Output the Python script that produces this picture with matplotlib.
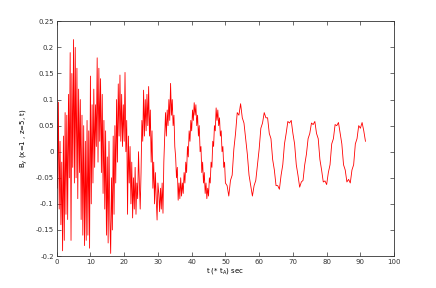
import numpy as np
import matplotlib
matplotlib.use('Agg')
import matplotlib.pyplot as plt

# early, noisy part: t = 0 .. 30, step 0.25
t_early = np.arange(0, 30.01, 0.25)
b_early = [0.14, -0.07, 0.095, -0.11, 0.02, -0.14, -0.02, -0.19,
           0.03, -0.17, 0.075, -0.12, 0.07, -0.13, 0.11, -0.05,
           0.19, -0.17, 0.15, -0.03, 0.215, -0.06, 0.20, -0.05,
           0.16, -0.09, 0.12, -0.04, 0.10, -0.13, 0.07, -0.16,
           0.05, -0.18, 0.02, -0.17, 0.06, -0.16, 0.04, -0.185,
           0.145, -0.10, 0.09, -0.06, 0.12, -0.03, 0.09, 0.01,
           0.18, -0.02, 0.16, 0.02, 0.14, -0.04, 0.11, -0.08,
           0.06, -0.11, 0.04, -0.16, -0.01, -0.175, 0.02, -0.13,
           -0.195, -0.05, -0.15, 0.03, -0.12, 0.05, -0.06, 0.10,
           -0.02, 0.13, 0.03, 0.147, 0.02, 0.11, 0.01, 0.09,
           0.02, 0.152, 0.00, 0.06, -0.12, 0.03, -0.06, 0.01,
           -0.10, -0.02, -0.127, -0.05, -0.11, -0.03, -0.12, -0.06,
           -0.09, 0.00, -0.06, -0.11, -0.04, 0.06, 0.02, 0.118,
           0.03, 0.10, 0.04, 0.11, 0.05, 0.125, 0.03, 0.08,
           -0.02, 0.04, -0.07, -0.02, -0.10, -0.04, -0.09, -0.131,
           -0.06]

# middle part: t = 30.25 .. 50, step 0.25
t_mid = np.arange(30.25, 50.01, 0.25)
b_mid = [-0.08, -0.115, -0.07, -0.11, -0.06, -0.118, -0.02, 0.03,
         0.075, 0.03, 0.08, 0.05, 0.10, 0.06, 0.131, 0.07,
         0.10, 0.05, 0.07, 0.01, -0.01, -0.05, -0.03, -0.093,
         -0.06, -0.09, -0.05, -0.085, -0.06, -0.08, -0.04, -0.06,
         -0.02, -0.04, 0.01, -0.01, 0.04, 0.02, 0.06, 0.04,
         0.08, 0.06, 0.094, 0.07, 0.09, 0.05, 0.07, 0.03,
         0.05, 0.00, 0.01, -0.04, -0.02, -0.06, -0.04, -0.08,
         -0.06, -0.09, -0.07, -0.085, -0.05, -0.06, -0.02, -0.03,
         0.02, 0.01, 0.05, 0.04, 0.084, 0.06, 0.08, 0.05,
         0.065, 0.03, 0.04, 0.00, 0.01, -0.03, -0.02, -0.06]

# late part: t = 50.5 .. 91.5, step 0.5
t_late = np.arange(50.5, 91.51, 0.5)
b_late = [-0.065, -0.085, -0.055, -0.045, 0.005, 0.035, 0.075, 0.07,
          0.092, 0.065, 0.055, 0.025, -0.005, -0.045, -0.065, -0.085,
          -0.065, -0.055, -0.025, 0.005, 0.045, 0.055, 0.075, 0.065,
          0.065, 0.035, 0.025, -0.015, -0.035, -0.065, -0.065, -0.072,
          -0.045, -0.025, 0.015, 0.035, 0.058, 0.055, 0.06, 0.035,
          0.015, -0.025, -0.045, -0.068, -0.058, -0.055, -0.025, -0.005,
          0.025, 0.035, 0.055, 0.052, 0.058, 0.035, 0.025, -0.015,
          -0.035, -0.058, -0.056, -0.063, -0.04, -0.025, 0.015, 0.025,
          0.052, 0.05, 0.056, 0.035, 0.015, -0.025, -0.035, -0.058,
          -0.053, -0.06, -0.035, -0.025, 0.015, 0.025, 0.05, 0.045,
          0.056, 0.04, 0.02]

t = np.concatenate([t_early, t_mid, t_late])
b = np.concatenate([b_early, b_mid, b_late])

x_ticks = np.arange(0, 101, 10)
y_ticks = [-0.2, -0.15, -0.1, -0.05, 0, 0.05, 0.1, 0.15, 0.2, 0.25]
y_labels = ['-0.2', '-0.15', '-0.1', '-0.05', '0', '0.05', '0.1', '0.15', '0.2', '0.25']

fig = plt.figure(figsize=(4.36, 2.88), dpi=100)
ax = fig.add_axes([0.13, 0.111, 0.774, 0.815])
ax.plot(t, b, color='red', linewidth=0.6)

ax.set_xlim(0, 100)
ax.set_ylim(-0.2, 0.25)
ax.set_xticks(x_ticks)
ax.set_xticklabels([str(v) for v in x_ticks])
ax.set_yticks(y_ticks)
ax.set_yticklabels(y_labels)
ax.tick_params(direction='in', length=3, width=0.5, labelsize=5,
               top=True, right=True, pad=2, colors='#333333')
for s in ax.spines.values():
    s.set_linewidth(0.6)
    s.set_color('#333333')

ax.set_xlabel('t (* t$_{\\rm A}$) sec', fontsize=5, labelpad=1)
ax.set_ylabel('B$_{\\rm y}$ (x=1 , z=5, t)', fontsize=5, labelpad=4)

fig.savefig('out.png', dpi=100)
